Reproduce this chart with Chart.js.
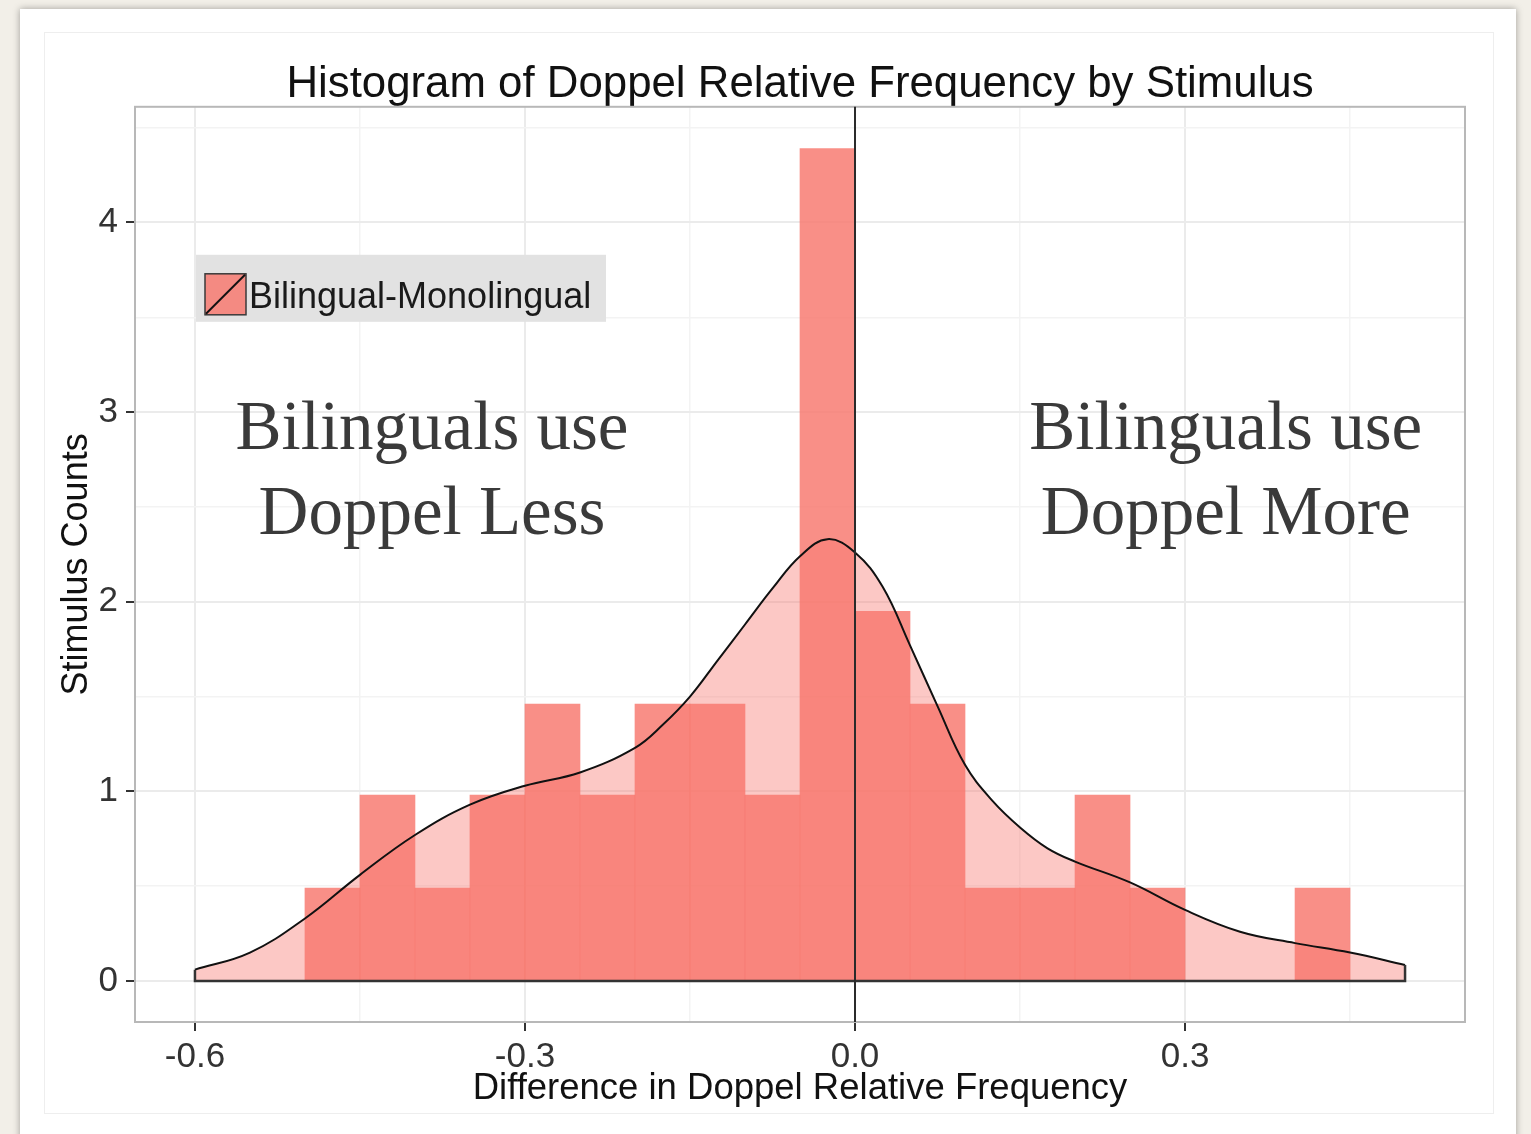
<!DOCTYPE html>
<html>
<head>
<meta charset="utf-8">
<title>Histogram of Doppel Relative Frequency by Stimulus</title>
<script src="https://cdn.jsdelivr.net/npm/chart.js@4.4.1/dist/chart.umd.min.js"></script>
<style>
  html, body { margin: 0; padding: 0; }
  body { width: 1531px; height: 1134px; background: #f2efe8; position: relative; overflow: hidden; }
  #paper { position: absolute; left: 20px; top: 9px; width: 1496px; height: 1140px; background: #fff; box-shadow: 0 0 7px rgba(0,0,0,0.35); }
  #frame { position: absolute; left: 44px; top: 32px; width: 1450px; height: 1082px; border: 1px solid #eeeeee; box-sizing: border-box; }
  #wrap { position: absolute; left: 44px; top: 32px; width: 1450px; height: 1082px; }
</style>
</head>
<body>
<div id="paper"></div>
<div id="frame"></div>
<div id="wrap"><canvas id="histChart"></canvas></div>
<script>
// histogram bins (width 0.05), heights as plotted
const binCenters = [-0.475, -0.425, -0.375, -0.325, -0.275, -0.225, -0.175, -0.125, -0.075, -0.025,
                    0.025, 0.075, 0.125, 0.175, 0.225, 0.275, 0.325, 0.375, 0.425];
const barHeights = [0.49, 0.98, 0.49, 0.98, 1.46, 0.98, 1.46, 1.46, 0.98, 4.39,
                    1.95, 1.46, 0.49, 0.49, 0.98, 0.49, 0, 0, 0.49];

// density curve
const densityX = [-0.6, -0.55, -0.5, -0.45, -0.4, -0.35, -0.3, -0.25, -0.2, -0.175, -0.15, -0.125, -0.1,
                  -0.075, -0.05, -0.025, 0, 0.025, 0.05, 0.075, 0.1, 0.125, 0.15, 0.175, 0.2, 0.25,
                  0.3, 0.35, 0.4, 0.45, 0.5];
const densityY = [0.06, 0.15, 0.33, 0.56, 0.77, 0.93, 1.03, 1.10, 1.23, 1.35, 1.50, 1.69, 1.88,
                  2.07, 2.24, 2.33, 2.26, 2.08, 1.77, 1.45, 1.14, 0.95, 0.81, 0.70, 0.63, 0.52,
                  0.375, 0.26, 0.20, 0.15, 0.085];

const xMajor = [-0.6, -0.3, 0, 0.3];
const xLabels = ['-0.6', '-0.3', '0.0', '0.3'];
const xMinor = [-0.45, -0.15, 0.15, 0.45];
const yMajor = [0, 1, 2, 3, 4];
const yLabels = ['0', '1', '2', '3', '4'];
const yMinor = [0.5, 1.5, 2.5, 3.5, 4.5];

const seriesName = 'Bilingual-Monolingual';
const leftNote = ['Bilinguals use', 'Doppel Less'];
const rightNote = ['Bilinguals use', 'Doppel More'];

const salmon = 'rgba(248,118,109,0.82)';
const salmonLight = 'rgba(248,118,109,0.40)';
const sans = "'Liberation Sans', Arial, Helvetica, sans-serif";

const densityPts = densityX.map((x, i) => ({ x: x, y: densityY[i] }));
const outlinePts = [
  { x: densityX[0], y: densityY[0] }, { x: densityX[0], y: 0 },
  { x: densityX[densityX.length - 1], y: 0 }, { x: densityX[densityX.length - 1], y: densityY[densityY.length - 1] }
];

function isIn(list, v) { return list.some(t => Math.abs(t - v) < 1e-9); }

const panelBorder = {
  id: 'panelBorder',
  beforeDatasetsDraw(chart) {
    const a = chart.chartArea, ctx = chart.ctx;
    ctx.save();
    ctx.strokeStyle = '#b8b8b8';
    ctx.lineWidth = 2;
    ctx.strokeRect(a.left, a.top, a.right - a.left, a.bottom - a.top);
    ctx.restore();
  }
};

const extras = {
  id: 'extras',
  afterDatasetsDraw(chart) {
    const ctx = chart.ctx, a = chart.chartArea;
    const xs = chart.scales.x, ys = chart.scales.y;
    ctx.save();
    // vertical line at zero
    const x0 = xs.getPixelForValue(0);
    ctx.strokeStyle = '#2b2b2b';
    ctx.lineWidth = 2;
    ctx.beginPath();
    ctx.moveTo(x0, a.top);
    ctx.lineTo(x0, a.bottom);
    ctx.stroke();

    // legend box
    const bx = a.left + 61, by = a.top + 148;
    ctx.fillStyle = '#e2e2e2';
    ctx.fillRect(bx, by, 410, 67);
    const kx = bx + 9, ky = by + 19, ks = 41;
    ctx.fillStyle = salmon;
    ctx.fillRect(kx, ky, ks, ks);
    ctx.strokeStyle = '#3a3a3a';
    ctx.lineWidth = 1.5;
    ctx.strokeRect(kx, ky, ks, ks);
    ctx.lineWidth = 2;
    ctx.strokeStyle = '#111';
    ctx.beginPath();
    ctx.moveTo(kx + 1, ky + ks - 1);
    ctx.lineTo(kx + ks - 1, ky + 1);
    ctx.stroke();
    ctx.fillStyle = '#1a1a1a';
    ctx.font = '36px ' + sans;
    ctx.textBaseline = 'middle';
    ctx.textAlign = 'left';
    ctx.fillText(seriesName, kx + ks + 3, ky + ks / 2 + 4);

    // annotations
    ctx.font = "69px 'Liberation Serif', 'Times New Roman', serif";
    ctx.fillStyle = '#3a3a3a';
    ctx.textAlign = 'center';
    ctx.textBaseline = 'alphabetic';
    const lineYs = [2.805, 2.356];
    [[-0.3845, leftNote], [0.337, rightNote]].forEach(([xv, lines]) => {
      const px = xs.getPixelForValue(xv);
      lines.forEach((t, i) => ctx.fillText(t, px, ys.getPixelForValue(lineYs[i])));
    });
    ctx.restore();
  }
};

Chart.defaults.font.family = sans;
Chart.defaults.color = '#333';

const histChart = new Chart(document.getElementById('histChart').getContext('2d'), {
  type: 'bar',
  data: {
    datasets: [
      { type: 'line', label: 'outline', data: outlinePts, borderColor: '#333', borderWidth: 2.5,
        pointRadius: 0, tension: 0, fill: false, order: 0 },
      { type: 'line', label: 'density', data: densityPts, borderColor: '#111', borderWidth: 2,
        pointRadius: 0, tension: 0.4, fill: false, order: 1 },
      { type: 'bar', label: seriesName, data: binCenters.map((x, i) => ({ x: x, y: barHeights[i] })),
        backgroundColor: salmon, borderWidth: 0, barPercentage: 1, categoryPercentage: 1, order: 2 },
      { type: 'line', label: 'density fill', data: densityPts, borderWidth: 0, borderColor: 'rgba(0,0,0,0)',
        backgroundColor: salmonLight, pointRadius: 0, tension: 0.4, fill: 'origin', order: 3 }
    ]
  },
  options: {
    responsive: true,
    maintainAspectRatio: false,
    animation: false,
    layout: { padding: { left: 0, right: 29, top: 0, bottom: 0 } },
    plugins: {
      legend: { display: false },
      tooltip: { enabled: false },
      title: {
        display: true, text: 'Histogram of Doppel Relative Frequency by Stimulus', fullSize: false,
        color: '#111', font: { size: 43.8, weight: 'normal', lineHeight: 1 }, padding: { top: 31, bottom: 0 }
      }
    },
    scales: {
      x: {
        type: 'linear', min: -0.6545, max: 0.5545, offset: false,
        afterBuildTicks: s => { s.ticks = xMajor.concat(xMinor).sort((a, b) => a - b).map(v => ({ value: v })); },
        afterFit: s => { s.height = 92; },
        border: { display: false },
        grid: {
          offset: false, drawTicks: true, tickLength: 9, tickWidth: 2,
          color: c => (c.tick && isIn(xMajor, c.tick.value)) ? '#ebebeb' : '#f3f3f3',
          lineWidth: c => (c.tick && isIn(xMajor, c.tick.value)) ? 2 : 1.5,
          tickColor: c => (c.tick && isIn(xMajor, c.tick.value)) ? '#333' : 'rgba(0,0,0,0)'
        },
        ticks: {
          autoSkip: false, maxRotation: 0, padding: 5, color: '#333', font: { size: 35 },
          callback: v => { const i = xMajor.findIndex(t => Math.abs(t - v) < 1e-9); return i >= 0 ? xLabels[i] : ''; }
        },
        title: { display: true, text: 'Difference in Doppel Relative Frequency', color: '#111',
                 font: { size: 36.5 }, padding: { top: 0, bottom: 3 } }
      },
      y: {
        min: -0.216, max: 4.61,
        afterBuildTicks: s => { s.ticks = yMajor.concat(yMinor).sort((a, b) => a - b).map(v => ({ value: v })); },
        afterFit: s => { s.width = 91; },
        border: { display: false },
        grid: {
          drawTicks: true, tickLength: 9, tickWidth: 2,
          color: c => (c.tick && isIn(yMajor, c.tick.value)) ? '#ebebeb' : '#f3f3f3',
          lineWidth: c => (c.tick && isIn(yMajor, c.tick.value)) ? 2 : 1.5,
          tickColor: c => (c.tick && isIn(yMajor, c.tick.value)) ? '#333' : 'rgba(0,0,0,0)'
        },
        ticks: {
          autoSkip: false, padding: 8, color: '#333', font: { size: 35 },
          callback: v => { const i = yMajor.findIndex(t => Math.abs(t - v) < 1e-9); return i >= 0 ? yLabels[i] : ''; }
        },
        title: { display: true, text: 'Stimulus Counts', color: '#111', font: { size: 36 }, padding: { top: 11, bottom: 0 } }
      }
    }
  },
  plugins: [panelBorder, extras]
});
</script>
</body>
</html>
